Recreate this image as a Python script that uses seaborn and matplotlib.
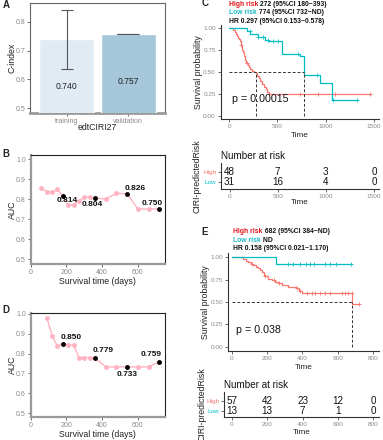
import numpy as np
import pandas as pd
import matplotlib
matplotlib.use('Agg')
import matplotlib.pyplot as plt
import seaborn as sns

sns.set_theme(style='white')
plt.rcParams['font.family'] = ['Liberation Sans', 'DejaVu Sans']

W, H = 383, 440

# ---- data -----------------------------------------------------------
# A: C-index
ci_sets = ['training', 'validation']
ci_vals = [0.740, 0.757]
ci_low = [0.637, 0.757]
ci_high = [0.842, 0.757]

# B: time-dependent AUC (training)
b_time = [60, 90, 120, 150, 180, 210, 240, 270, 300, 330, 360, 420, 480, 540, 600, 660, 720]
b_auc = [0.857, 0.835, 0.835, 0.848, 0.814, 0.768, 0.772, 0.790, 0.810, 0.810, 0.804,
         0.800, 0.828, 0.826, 0.750, 0.750, 0.750]
b_key_time = [180, 360, 540, 720]
b_key_auc = [0.814, 0.804, 0.826, 0.750]

# D: time-dependent AUC (validation)
d_time = [90, 120, 150, 180, 210, 240, 270, 300, 330, 360, 420, 480, 540, 600, 660, 720]
d_auc = [0.982, 0.890, 0.838, 0.850, 0.843, 0.843, 0.780, 0.780, 0.780, 0.779,
         0.733, 0.733, 0.733, 0.733, 0.733, 0.759]
d_key_time = [180, 360, 540, 720]
d_key_auc = [0.850, 0.779, 0.733, 0.759]

# C: Kaplan-Meier, training
c_high_t = [0, 42, 55, 68, 80, 92, 104, 112, 120, 128, 136, 145, 155, 165, 178, 190, 205,
            220, 240, 258, 272, 290, 305, 320, 340, 360, 378, 395, 410]
c_high_s = [1.0, 0.979, 0.958, 0.937, 0.916, 0.895, 0.874, 0.853, 0.811, 0.769, 0.748,
            0.727, 0.685, 0.643, 0.601, 0.580, 0.559, 0.538, 0.517, 0.507, 0.485, 0.453,
            0.431, 0.400, 0.368, 0.336, 0.305, 0.273, 0.245]
c_high_end = 1470
c_high_cens = [125, 180, 733, 925, 1100, 1460]
c_low_t = [0, 180, 215, 300, 370, 405, 543, 735, 774, 940, 1062]
c_low_s = [1.0, 0.968, 0.935, 0.902, 0.868, 0.853, 0.703, 0.680, 0.467, 0.373, 0.187]
c_low_end = 1330
c_low_cens = [214, 301, 352, 404, 456, 508, 715, 905, 1080, 1320]
c_risk_times = [0, 500, 1000, 1500]
c_risk_high = [48, 7, 3, 0]
c_risk_low = [31, 16, 4, 0]
c_title = [('High risk', ' 272 (95%CI 180~393)'),
           ('Low risk', ' 774 (95%CI 732~ND)'),
           ('', 'HR 0.297 (95%CI 0.153~0.578)')]
c_p = 'p = 0.00015'

# E: Kaplan-Meier, validation
e_high_t = [0, 66, 80, 95, 108, 122, 135, 148, 160, 170, 180, 190, 205, 225, 245, 265,
            285, 320, 365, 380, 395, 682]
e_high_s = [1.0, 0.982, 0.965, 0.947, 0.930, 0.912, 0.895, 0.877, 0.860, 0.842, 0.807,
            0.789, 0.754, 0.745, 0.727, 0.710, 0.690, 0.673, 0.655, 0.627, 0.598, 0.479]
e_high_end = 720
e_high_cens = [115, 190, 240, 270, 367, 386, 427, 452, 471, 499, 527, 556, 622, 641,
               659, 678, 720]
e_low_t = [0, 250]
e_low_s = [1.0, 0.923]
e_low_end = 678
e_low_cens = [320, 345, 386, 420, 443, 465, 527, 556, 590, 674]
e_risk_times = [0, 200, 400, 600, 800]
e_risk_high = [57, 42, 23, 12, 0]
e_risk_low = [13, 13, 7, 1, 0]
e_title = [('High risk', ' 682 (95%CI 384~ND)'),
           ('Low risk', ' ND'),
           ('', 'HR 0.158 (95%CI 0.021~1.170)')]
e_p = 'p = 0.038'

# ---- styles ---------------------------------------------------------
RED, TEAL = '#F8766D', '#00BFC4'
TITLE_RED, TITLE_TEAL = '#E3141B', '#1AB8C4'
PINK = '#FFB3C1'
TICK = '#8a8a8a'

fig = plt.figure(figsize=(W / 100, H / 100), dpi=100)


def rect(x0, y0, x1, y1):
    return [x0 / W, 1 - y1 / H, (x1 - x0) / W, (y1 - y0) / H]


def style_ticks(ax, size=5):
    ax.tick_params(labelsize=size, labelcolor=TICK, color='#555555', length=2,
                   width=0.6, pad=1.5, bottom=True, left=True)


def place_labels(ax, xl, yl, xy, yx, size=6.3):
    ax.set_xlabel(xl, fontsize=size, color='#222222')
    ax.set_ylabel(yl, fontsize=size, color='#222222')
    ax.xaxis.label.set_va('center')
    ax.yaxis.label.set_va('center')
    ax.xaxis.set_label_coords(0.5, xy)
    ax.yaxis.set_label_coords(yx, 0.5)


# ---- A --------------------------------------------------------------
ax = fig.add_axes(rect(30, 3, 165, 113))
df_a = pd.DataFrame({'set': ci_sets, 'cindex': ci_vals})
sns.barplot(data=df_a, x='set', y='cindex', hue='set',
            palette=['#DEEBF7', '#9ECAE1'], width=0.9, ax=ax, legend=False, zorder=3)
for i, cap in enumerate([4, 8]):
    ax.errorbar(i, ci_vals[i], yerr=[[ci_vals[i] - ci_low[i]], [ci_high[i] - ci_vals[i]]],
                color='#555555', capsize=cap, lw=0.8, capthick=0.8, zorder=4)
    ax.text(i, ci_vals[i] - 0.165, f'{ci_vals[i]:.3f}', ha='center', va='center',
            fontsize=6.2, color='#222222', zorder=5)
ax.set_xlim(-0.6, 1.6)
ax.set_ylim(0.483, 0.866)
ax.set_yticks([0.5, 0.6, 0.7, 0.8])
style_ticks(ax)
place_labels(ax, 'edtCIRI27', 'C-index', -0.136, -0.136)
for s in ['left', 'top', 'right']:
    ax.spines[s].set_color('#666666')
    ax.spines[s].set_linewidth(0.8)
ax.spines['bottom'].set_color('#9a9a9a')
ax.spines['bottom'].set_linewidth(2)


# ---- B / D ----------------------------------------------------------
def auc_panel(box, t, a, kt, ka, offs, ylim, xlab_y):
    ax = fig.add_axes(rect(*box))
    sns.lineplot(x=t, y=a, color=PINK, lw=1, marker='o', markersize=3.5,
                 markeredgewidth=0, ax=ax)
    sns.scatterplot(x=kt, y=ka, color='black', s=12, linewidth=0, ax=ax, zorder=4)
    for xx, yy, (dx, dy) in zip(kt, ka, offs):
        ax.annotate(f'{yy:.3f}', (xx, yy), xytext=(dx, dy), textcoords='offset points',
                    ha='center', va='center', fontsize=6, fontweight='bold', color='#111111')
    ax.set_xlim(0, 752)
    ax.set_ylim(*ylim)
    ax.set_xticks([0, 200, 400, 600])
    ax.set_yticks([0.5, 0.6, 0.7, 0.8, 0.9, 1.0])
    style_ticks(ax)
    place_labels(ax, 'Survival time (days)', 'AUC', xlab_y, -0.139)
    for s in ['top', 'right']:
        ax.spines[s].set_color('#222222')
        ax.spines[s].set_linewidth(0.8)
    for s in ['left', 'bottom']:
        ax.spines[s].set_color('#9a9a9a')
        ax.spines[s].set_linewidth(1.6)
    return ax


auc_panel((30.7, 155, 165, 264), b_time, b_auc, b_key_time, b_key_auc,
          [(3, -3.4), (-1.9, -4.2), (6, 4), (-5.3, 4.3)], (0.475, 1.02), -0.156)
auc_panel((30.7, 313, 165, 417), d_time, d_auc, d_key_time, d_key_auc,
          [(6, 4.8), (6.2, 5), (0, -5.3), (-6.2, 5)], (0.48, 1.005), -0.173)


# ---- KM panels ------------------------------------------------------
def step_value(t, s, x):
    idx = np.searchsorted(t, x, side='right') - 1
    return np.asarray(s)[idx]


def km_curve(ax, t, s, end, cens, color):
    df = pd.DataFrame({'t': list(t) + [end], 's': list(s) + [s[-1]]})
    sns.lineplot(data=df, x='t', y='s', drawstyle='steps-post', color=color, lw=0.9,
                 estimator=None, sort=False, ax=ax)
    ax.plot(cens, step_value(t, s, cens), ls='', marker='+', ms=3.5, mew=0.6, color=color)
    below = [tt for tt, ss in zip(t, s) if ss <= 0.5]
    return below[0] if below else None


def km_panel(box, curves, xlim, ylim, xticks, ptext, title, title_xy, ylab_x):
    ax = fig.add_axes(rect(*box))
    meds = []
    for t, s, end, cens, col in curves:
        m = km_curve(ax, t, s, end, cens, col)
        if m is not None:
            meds.append(m)
    if meds:
        ax.hlines(0.5, 0, max(meds), colors='#333333', linestyles=(0, (3, 2)), lw=0.7)
        ax.vlines(meds, 0, 0.5, colors='#333333', linestyles=(0, (3, 2)), lw=0.7)
    ax.text(25, 0.19, ptext, va='center', ha='left', fontsize=7.7, color='#111111')
    ax.set_xlim(*xlim)
    ax.set_ylim(*ylim)
    ax.set_xticks(xticks)
    ax.set_yticks([0, 0.25, 0.5, 0.75, 1.0])
    ax.set_yticklabels(['0.00', '0.25', '0.50', '0.75', '1.00'])
    style_ticks(ax, 4.6)
    sns.despine(ax=ax)
    for s in ['left', 'bottom']:
        ax.spines[s].set_color('#333333')
        ax.spines[s].set_linewidth(0.8)
    ax.set_xlabel('Time', fontsize=5.9, color='#222222')
    ax.set_ylabel('Survival probability', fontsize=6.3, color='#222222')
    ax.yaxis.label.set_va('center')
    ax.yaxis.set_label_coords(ylab_x, 0.5)
    ax.xaxis.label.set_va('center')
    ax.xaxis.set_label_coords(0.5, -0.17)
    # title lines
    x0, y0 = title_xy
    for k, (lead, rest) in enumerate(title):
        yy = 1 - (y0 + k * 8.3) / H
        col = [TITLE_RED, TITLE_TEAL, '#111111'][k]
        t1 = fig.text(x0 / W, yy, lead, color=col, fontsize=4.9, fontweight='bold', va='center')
        ax.annotate(rest, xy=(1 if lead else 0, 0.5), xycoords=t1, va='center', ha='left',
                    fontsize=4.9, fontweight='bold', color='#111111', annotation_clip=False)
    return ax


def risk_table(box, times, high, low, xlim, ylim, ylab_x, xlab_y):
    ax = fig.add_axes(rect(*box))
    for row, vals in [(1, high), (0, low)]:
        for tt, v in zip(times, vals):
            ax.text(tt, row, str(v), ha='center', va='center', fontsize=7.1, color='#111111')
    ax.set_xlim(*xlim)
    ax.set_ylim(*ylim)
    ax.set_xticks(times)
    ax.set_yticks([1, 0])
    ax.set_yticklabels(['High', 'Low'])
    style_ticks(ax, 4.6)
    for lab, col in zip(ax.get_yticklabels(), [RED, TEAL]):
        lab.set_color(col)
    sns.despine(ax=ax)
    for s in ['left', 'bottom']:
        ax.spines[s].set_color('#333333')
        ax.spines[s].set_linewidth(0.8)
    ax.set_title('Number at risk', loc='left', fontsize=7.1, pad=3, color='#111111')
    ax.set_xlabel('Time', fontsize=5.9, color='#222222')
    ax.set_ylabel('CIRI-predictedRisk', fontsize=6.3, color='#222222')
    ax.yaxis.label.set_va('center')
    ax.yaxis.set_label_coords(ylab_x, 0.5)
    ax.xaxis.label.set_va('center')
    ax.xaxis.set_label_coords(0.5, xlab_y)
    return ax


km_panel((220.7, 25, 379, 119.3),
         [(c_high_t, c_high_s, c_high_end, c_high_cens, RED),
          (c_low_t, c_low_s, c_low_end, c_low_cens, TEAL)],
         (-89, 1553), (-0.038, 1.038), [0, 500, 1000, 1500], c_p, c_title, (229, 4.5), -0.14)
risk_table((221, 163, 379, 189.3), c_risk_times, c_risk_high, c_risk_low,
           (-89, 1553), (-0.76, 1.87), -0.149, -0.51)

km_panel((228.3, 253, 379, 350.7),
         [(e_high_t, e_high_s, e_high_end, e_high_cens, RED),
          (e_low_t, e_low_s, e_low_end, e_low_cens, TEAL)],
         (-19, 832), (-0.045, 1.05), [0, 200, 400, 600, 800], e_p, e_title, (233.3, 231.7), -0.148)
risk_table((224.3, 392, 379, 416.7), e_risk_times, e_risk_high, e_risk_low,
           (-42, 832), (-0.55, 1.85), -0.144, -0.65)

# panel letters
for letter, (px, py) in zip('ABCDE', [(2.5, 5), (2.5, 154), (201.5, 3.5), (2.5, 310), (201.5, 231.7)]):
    fig.text(px / W, 1 - py / H, letter, fontsize=7, fontweight='bold', ha='left', va='center')

fig.savefig('out.png', dpi=100)
